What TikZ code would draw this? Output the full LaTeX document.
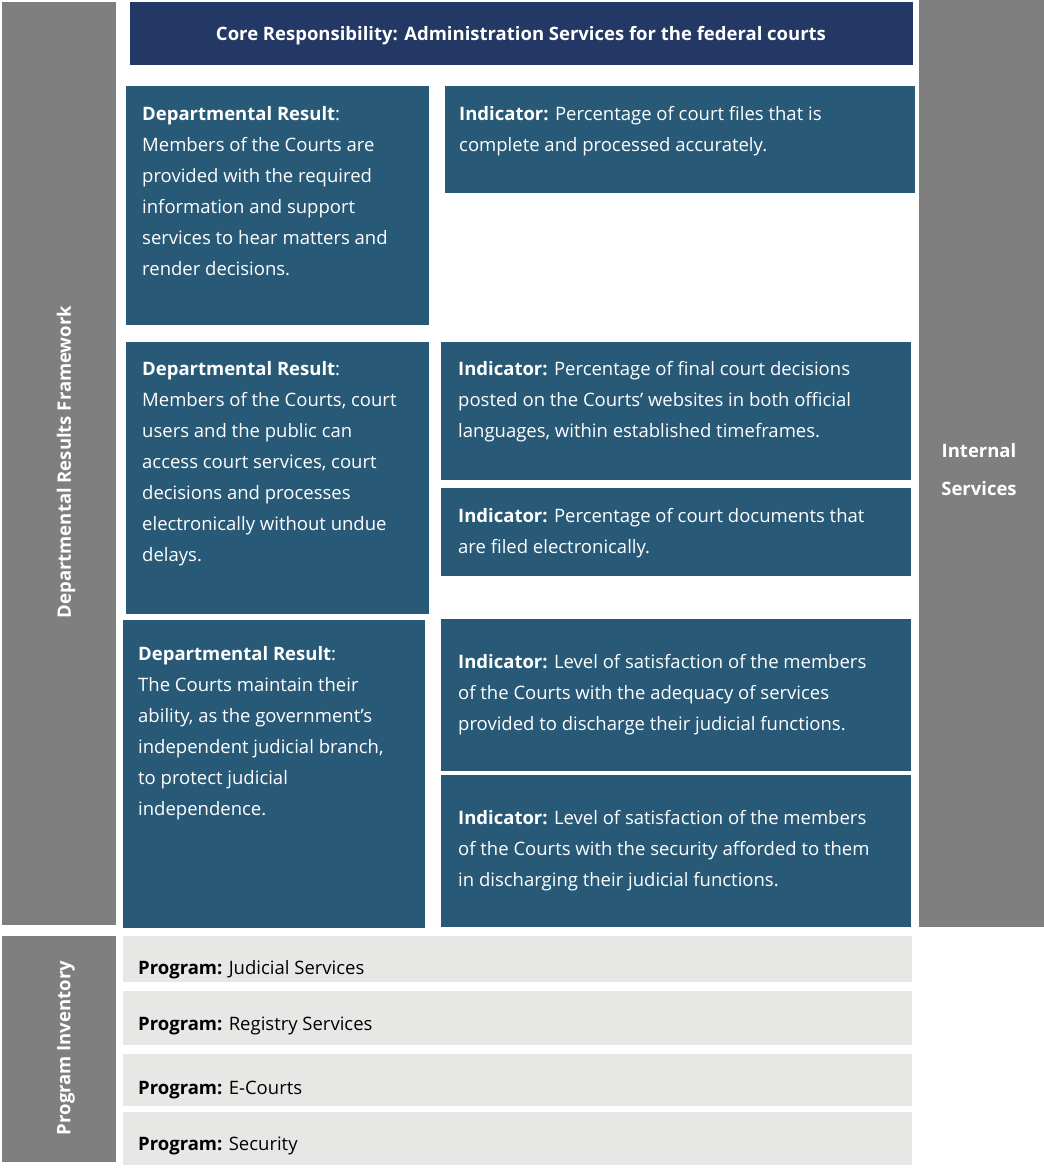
\documentclass[tikz,border=0pt]{standalone}
\usepackage{fontspec}
\setmainfont{Open Sans}
\usetikzlibrary{calc}
\definecolor{navy}{HTML}{233864}
\definecolor{steel}{HTML}{285A78}
\definecolor{sidegray}{HTML}{7F7F7F}
\definecolor{proggray}{HTML}{E7E8E6}
\tikzset{
  box/.style={fill=steel, draw=none},
  sidebar/.style={fill=sidegray, draw=none},
  progbar/.style={fill=proggray, draw=none},
  boxtext/.style={anchor=north west, inner sep=0pt, text=white, align=left, font=\fontsize{18.5}{31}\selectfont},
  progtext/.style={anchor=west, inner sep=0pt, text=black, font=\fontsize{18.5}{22}\selectfont},
  sidetext/.style={text=white, inner sep=0pt, font=\fontsize{18.5}{38}\selectfont\bfseries, align=center}
}
\begin{document}
\begin{tikzpicture}[x=1pt,y=-1pt]
\useasboundingbox (0,0) rectangle (1044,1168);
% side bars
\fill[sidebar] (2,2) rectangle (116,925);
\node[sidetext, rotate=90] (drf) at (66,462) {Departmental Results Framework};
\fill[sidebar] (2,936) rectangle (116,1162);
\node[sidetext, rotate=90] (pin) at (66,1048) {Program Inventory};
\fill[sidebar] (919,0) rectangle (1044,927);
\node[sidetext] (is) at (979,470) {Internal\\Services};
% core
\fill[navy] (130,2) rectangle (913,65);
\node[text=white, font=\fontsize{18.5}{22}\selectfont\bfseries] (core) at (521,36) {Core Responsibility: Administration Services for the federal courts};
% departmental results
\fill[box] (126,86) rectangle (429,325);
\node[boxtext] (d1) at (142,106) {\textbf{Departmental Result}:\\Members of the Courts are\\provided with the required\\information and support\\services to hear matters and\\render decisions.};
\fill[box] (126,342) rectangle (429,614);
\node[boxtext] (d2) at (142,361) {\textbf{Departmental Result}:\\Members of the Courts, court\\users and the public can\\access court services, court\\decisions and processes\\electronically without undue\\delays.};
\fill[box] (123,620) rectangle (425,928);
\node[boxtext] (d3) at (138,646) {\textbf{Departmental Result}:\\The Courts maintain their\\ability, as the government’s\\independent judicial branch,\\to protect judicial\\independence.};
% indicators
\fill[box] (445,86) rectangle (915,193);
\node[boxtext] (i1) at (459,106) {\textbf{Indicator:} Percentage of court files that is\\complete and processed accurately.};
\fill[box] (441,342) rectangle (911,480);
\node[boxtext] (i2) at (458,361) {\textbf{Indicator:} Percentage of final court decisions\\posted on the Courts’ websites in both official\\languages, within established timeframes.};
\fill[box] (441,488) rectangle (911,576);
\node[boxtext] (i3) at (458,508) {\textbf{Indicator:} Percentage of court documents that\\are filed electronically.};
\fill[box] (441,619) rectangle (911,771);
\node[boxtext] (i4) at (458,654) {\textbf{Indicator:} Level of satisfaction of the members\\of the Courts with the adequacy of services\\provided to discharge their judicial functions.};
\fill[box] (441,775) rectangle (911,927);
\node[boxtext] (i5) at (458,810) {\textbf{Indicator:} Level of satisfaction of the members\\of the Courts with the security afforded to them\\in discharging their judicial functions.};
% programs
\fill[progbar] (123,936) rectangle (912,982);
\node[progtext] (p1) at (138,970) {\textbf{Program:} Judicial Services};
\fill[progbar] (123,991) rectangle (912,1045);
\node[progtext] (p2) at (138,1026) {\textbf{Program:} Registry Services};
\fill[progbar] (123,1054) rectangle (912,1106);
\node[progtext] (p3) at (138,1090) {\textbf{Program:} E-Courts};
\fill[progbar] (123,1112) rectangle (912,1165);
\node[progtext] (p4) at (138,1146) {\textbf{Program:} Security};
\end{tikzpicture}
\end{document}
